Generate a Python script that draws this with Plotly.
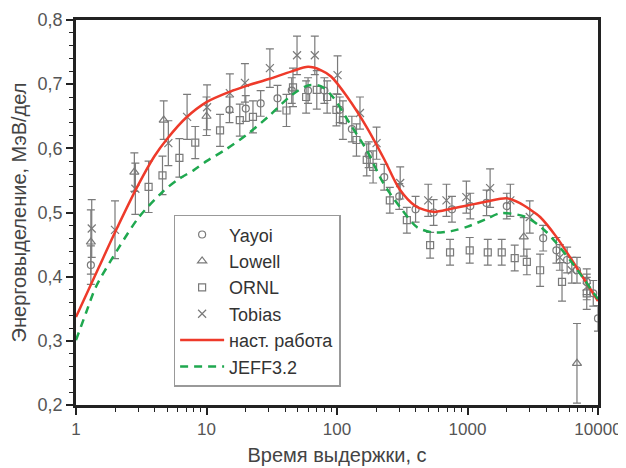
import plotly.graph_objects as go

# ---- data ----
tobias_x = [1.32, 1.99, 2.85, 5.1, 7.1, 10.1, 15.1, 19.7, 30.6, 49.4, 67.6, 101, 150, 201, 305, 500, 690, 980, 1490, 2130, 3000, 5100, 6300, 8200]
tobias_y = [0.475, 0.473, 0.537, 0.608, 0.649, 0.664, 0.686, 0.702, 0.725, 0.745, 0.745, 0.714, 0.655, 0.608, 0.546, 0.519, 0.519, 0.524, 0.538, 0.519, 0.493, 0.43, 0.41, 0.384]
tobias_e = [0.045, 0.045, 0.04, 0.035, 0.035, 0.035, 0.03, 0.03, 0.03, 0.03, 0.03, 0.03, 0.025, 0.025, 0.025, 0.025, 0.025, 0.025, 0.03, 0.025, 0.025, 0.02, 0.02, 0.02]

lowell_x = [1.3, 2.8, 4.7, 10.0, 2700, 6900]
lowell_y = [0.454, 0.563, 0.644, 0.65, 0.462, 0.265]
lowell_e = [0.05, 0.03, 0.03, 0.03, 0.03, 0.062]

ornl_x = [3.6, 4.6, 6.2, 8.2, 12.7, 18, 22.7, 41, 46, 58, 70, 84, 99, 111, 141, 169, 189, 254, 343, 517, 735, 1040, 1430, 1830, 2300, 2850, 3600, 5300, 8200]
ornl_y = [0.540, 0.558, 0.585, 0.609, 0.628, 0.644, 0.649, 0.659, 0.695, 0.68, 0.691, 0.68, 0.66, 0.644, 0.613, 0.582, 0.571, 0.519, 0.488, 0.449, 0.438, 0.441, 0.438, 0.438, 0.429, 0.423, 0.41, 0.392, 0.374]
ornl_e = [0.04, 0.03, 0.03, 0.025, 0.025, 0.025, 0.025, 0.025, 0.03, 0.025, 0.03, 0.025, 0.025, 0.03, 0.025, 0.025, 0.025, 0.02, 0.02, 0.02, 0.02, 0.02, 0.02, 0.02, 0.02, 0.02, 0.025, 0.03, 0.025]

yayoi_x = [1.3, 15, 20, 26, 35, 45, 60, 80, 105, 130, 175, 230, 300, 400, 550, 760, 1050, 1400, 2000, 3800, 4800, 5800, 6900, 8200, 9200, 10000]
yayoi_y = [0.418, 0.66, 0.662, 0.670, 0.678, 0.69, 0.69, 0.69, 0.66, 0.63, 0.59, 0.555, 0.525, 0.505, 0.5, 0.505, 0.51, 0.515, 0.51, 0.46, 0.441, 0.426, 0.41, 0.392, 0.374, 0.335]
yayoi_e = [0.03, 0.02, 0.02, 0.02, 0.02, 0.02, 0.02, 0.02, 0.02, 0.02, 0.02, 0.02, 0.02, 0.02, 0.02, 0.02, 0.02, 0.02, 0.02, 0.02, 0.02, 0.02, 0.02, 0.02, 0.02, 0.02]

work_x = [1, 1.5, 2, 3, 4, 5, 7, 10, 15, 20, 30, 45, 60, 75, 90, 120, 170, 230, 300, 400, 550, 750, 1000, 1400, 2000, 2500, 3000, 3600, 4800, 6300, 10000]
work_y = [0.337, 0.415, 0.47, 0.543, 0.588, 0.615, 0.648, 0.672, 0.688, 0.697, 0.708, 0.72, 0.727, 0.722, 0.712, 0.68, 0.632, 0.583, 0.537, 0.51, 0.501, 0.506, 0.511, 0.517, 0.522, 0.515, 0.505, 0.493, 0.462, 0.426, 0.362]

jeff_x = [1, 1.2, 1.42, 2.14, 3.04, 4.6, 6, 8, 10, 14, 20, 30, 45, 60, 75, 93, 125, 169, 226, 305, 411, 544, 750, 1000, 1400, 1800, 2800, 4000, 6100, 10000]
jeff_y = [0.301, 0.345, 0.384, 0.446, 0.493, 0.532, 0.551, 0.566, 0.58, 0.598, 0.62, 0.65, 0.683, 0.698, 0.697, 0.68, 0.639, 0.597, 0.546, 0.508, 0.477, 0.469, 0.471, 0.478, 0.49, 0.499, 0.493, 0.47, 0.426, 0.365]

x_tickvals = [1, 10, 100, 1000, 10000]
x_ticktext = ["1", "10", "100", "1000", "10000"]
y_tickvals = [0.2, 0.3, 0.4, 0.5, 0.6, 0.7, 0.8]
y_ticktext = ["0,2", "0,3", "0,4", "0,5", "0,6", "0,7", "0,8"]

GRAY = "#7a7a7a"
FONT = "Arial, Liberation Sans, sans-serif"

fig = go.Figure()

def add_points(name, x, y, e, symbol, size):
    fig.add_trace(go.Scatter(
        x=x, y=y, mode="markers", name=name,
        marker=dict(symbol=symbol, size=size, color=GRAY,
                    line=dict(color=GRAY, width=1.2)),
        error_y=dict(type="data", array=e, visible=True, color=GRAY,
                     thickness=1.2, width=4),
    ))

add_points("Yayoi", yayoi_x, yayoi_y, yayoi_e, "circle-open", 7)
add_points("Lowell", lowell_x, lowell_y, lowell_e, "triangle-up-open", 8)
add_points("ORNL", ornl_x, ornl_y, ornl_e, "square-open", 7)
add_points("Tobias", tobias_x, tobias_y, tobias_e, "x-thin-open", 8)

fig.add_trace(go.Scatter(x=work_x, y=work_y, mode="lines", name="наст. работа",
                         line=dict(color="#ee3a2a", width=2.5, shape="spline", smoothing=0.8)))
fig.add_trace(go.Scatter(x=jeff_x, y=jeff_y, mode="lines", name="JEFF3.2",
                         line=dict(color="#1fa84f", width=2.5, dash="8px,6px", shape="spline", smoothing=0.8)))

minor_x = [m * 10 ** k for k in range(4) for m in range(2, 10)]

fig.update_layout(
    width=626, height=468,
    margin=dict(l=68, r=36, t=12, b=71, autoexpand=False),
    paper_bgcolor="white", plot_bgcolor="white",
    font=dict(family=FONT, size=15, color="#444"),
    showlegend=True,
    legend=dict(x=0.187, y=0.494, xanchor="left", yanchor="top",
                bordercolor="#999", borderwidth=1.5, bgcolor="white",
                font=dict(size=18, color="#333"), tracegroupgap=0,
                itemwidth=44),
    xaxis=dict(type="log", range=[0, 4], tickvals=x_tickvals, ticktext=x_ticktext,
               automargin=False,
               ticks="outside", ticklen=7, tickwidth=1.5, tickcolor="#222",
               showline=True, linecolor="#222", linewidth=2.5, mirror=True,
               showgrid=False, zeroline=False,
               minor=dict(tickvals=minor_x, ticks="outside", ticklen=4, tickcolor="#222", tickwidth=1.2, showgrid=False),
               tickfont=dict(size=17, color="#555"),
               title=dict(text="Время выдержки, с", font=dict(size=20, color="#444"), standoff=10)),
    yaxis=dict(range=[0.2, 0.8], tickvals=y_tickvals, ticktext=y_ticktext,
               automargin=False,
               ticks="outside", ticklen=7, tickwidth=1.5, tickcolor="#222",
               showline=True, linecolor="#222", linewidth=2.5, mirror=True,
               showgrid=False, zeroline=False, ticklabelstandoff=0,
               minor=dict(dtick=0.02, ticks="outside", ticklen=4, tickcolor="#222", tickwidth=1.2, showgrid=False),
               tickfont=dict(size=18, color="#555"),
               title=dict(text="Энерговыделение, МэВ/дел", font=dict(size=20, color="#444"), standoff=7)),
)

fig.write_html("out.html")
